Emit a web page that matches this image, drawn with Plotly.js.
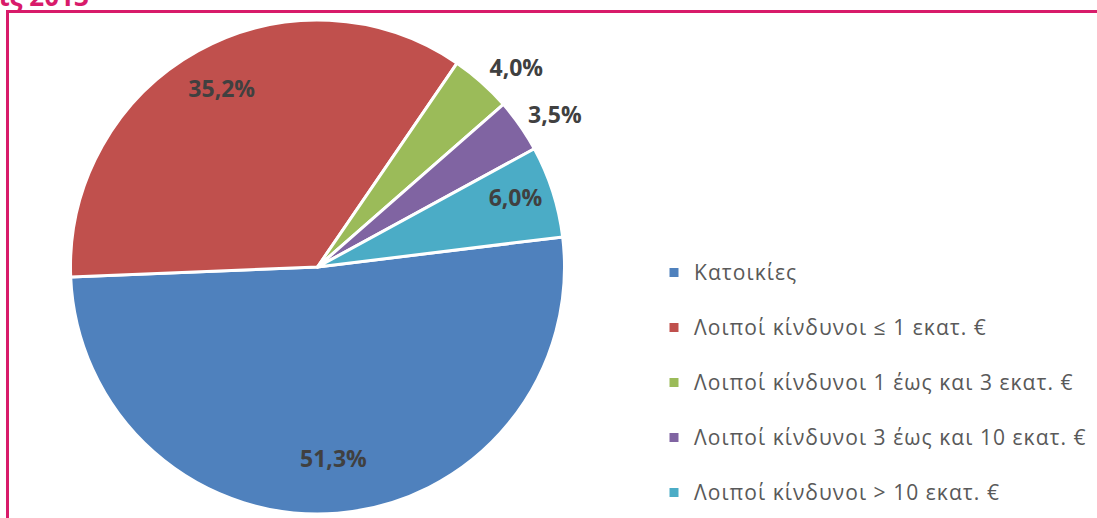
<!DOCTYPE html>
<html>
<head>
<meta charset="utf-8">
<script src="https://cdn.plot.ly/plotly-3.0.1.min.js"></script>
<style>html,body{margin:0;padding:0;background:#fff;}#chart{width:1097px;height:518px;}</style>
</head>
<body>
<div id="chart"></div>
<script>
const labels = [
  "Κατοικίες",
  "Λοιποί κίνδυνοι ≤ 1 εκατ. €",
  "Λοιποί κίνδυνοι 1 έως και 3 εκατ. €",
  "Λοιποί κίνδυνοι 3 έως και 10 εκατ. €",
  "Λοιποί κίνδυνοι > 10 εκατ. €"
];
const values = [51.3, 35.2, 4.0, 3.5, 6.0];
const valueTexts = ["51,3%", "35,2%", "4,0%", "3,5%", "6,0%"];
const colors = ["#4F81BD", "#C0504D", "#9BBB59", "#8064A2", "#4BACC6"];
const textPositions = ["inside", "inside", "outside", "outside", "inside"];
const titleFragment = "ις 2013";

const W = 1097, H = 518;
const px = x => x / W;
const py = y => 1 - y / H;
const FONT = "'Open Sans', 'Noto Sans', sans-serif";
const pieDomain = {x: [px(70.5), px(564.5)], y: [py(514), py(20)]};
const labelDomain = {x: [px(70.5), px(564.5)], y: [py(508), py(14)]};
const labelFont = {family: FONT, size: 23, color: "#404040", weight: "bold"};

const pieTrace = {
  type: "pie",
  labels: labels.map(l => ' <br><span style="font-size:21px;letter-spacing:1.05px">' + l + '</span>'),
  values: values,
  textinfo: "none",
  sort: false,
  direction: "clockwise",
  rotation: 83,
  marker: {colors: colors, line: {color: "#ffffff", width: 3}},
  domain: pieDomain,
  hoverinfo: "percent"
};

const labelTrace = {
  type: "pie",
  labels: labels.map(l => "lbl-" + l),
  values: values,
  text: valueTexts,
  textinfo: "text",
  textposition: textPositions,
  insidetextorientation: "horizontal",
  hole: 0.6,
  sort: false,
  direction: "clockwise",
  rotation: 83,
  showlegend: false,
  marker: {colors: colors.map(() => "rgba(0,0,0,0)"), line: {width: 0}},
  textfont: labelFont,
  insidetextfont: labelFont,
  outsidetextfont: labelFont,
  domain: labelDomain,
  hoverinfo: "skip"
};

const layout = {
  width: W, height: H,
  margin: {l: 0, r: 0, t: 0, b: 0, autoexpand: false},
  paper_bgcolor: "#ffffff",
  showlegend: true,
  legend: {
    x: px(654), xanchor: "left",
    y: py(227), yanchor: "top",
    valign: "bottom",
    font: {family: FONT, size: 20, color: "#595959"},
    bgcolor: "rgba(0,0,0,0)"
  },
  shapes: [{
    type: "rect", xref: "paper", yref: "paper",
    x0: px(7.5), x1: px(1100), y0: py(11.5), y1: py(530),
    line: {color: "#D81B6A", width: 3}, fillcolor: "rgba(0,0,0,0)"
  }],
  annotations: [{
    text: "<b>" + titleFragment + "</b>",
    xref: "paper", yref: "paper",
    x: px(-3), xanchor: "left",
    y: py(16), yanchor: "bottom",
    showarrow: false,
    font: {family: FONT, size: 26, color: "#D81B6A"}
  }]
};

Plotly.newPlot("chart", [pieTrace, labelTrace], layout, {displayModeBar: false, staticPlot: true});
</script>
</body>
</html>
